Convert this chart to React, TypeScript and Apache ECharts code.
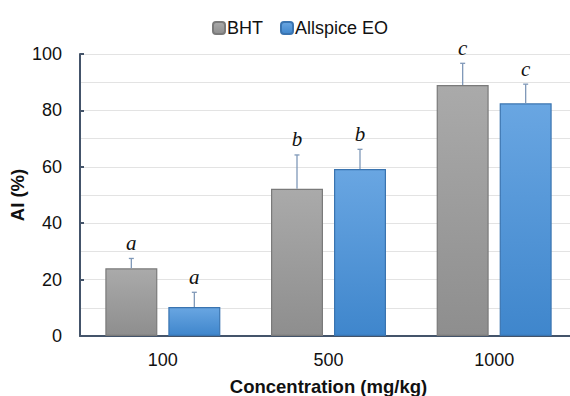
import React, { useEffect, useRef } from "react";
import * as echarts from "echarts";

const categories = ["100", "500", "1000"];
const seriesNames = ["BHT", "Allspice EO"];
const bhtValues = [24.0, 52.2, 89.0];
const bhtErrors = [3.5, 12.0, 7.7];
const allspiceValues = [10.3, 59.2, 82.5];
const allspiceErrors = [5.2, 7.0, 6.8];
const bhtLetters = ["a", "b", "c"];
const allspiceLetters = ["a", "b", "c"];

const BAR_W = 52;
const BAR_GAP = 11;

function errorSeries(values: number[], errors: number[], letters: string[], side: number) {
  const data = values.map((v, i) => [i, v, v + errors[i]]);
  return {
    type: "custom",
    z: 5,
    silent: true,
    data,
    renderItem: (params: any, api: any) => {
      const off = side * (BAR_W / 2 + BAR_GAP / 2);
      const base = api.coord([api.value(0), api.value(1)]);
      const top = api.coord([api.value(0), api.value(2)]);
      const x = base[0] + off;
      const letter = letters[params.dataIndex];
      return {
        type: "group",
        children: [
          {
            type: "line",
            shape: { x1: x, y1: base[1], x2: x, y2: top[1] },
            style: { stroke: "#7f98b8", lineWidth: 1.3 },
          },
          {
            type: "line",
            shape: { x1: x - 2.5, y1: top[1], x2: x + 2.5, y2: top[1] },
            style: { stroke: "#7f98b8", lineWidth: 1.3 },
          },
          {
            type: "text",
            x: x,
            y: top[1] - 5,
            style: {
              text: letter,
              fontFamily: "Liberation Serif",
              fontStyle: "italic",
              fontSize: 21,
              fill: "#111",
              align: "center",
              verticalAlign: "bottom",
            },
          },
        ],
      };
    },
  };
}

export default function App() {
  const ref = useRef<HTMLDivElement>(null);
  useEffect(() => {
    const chart = echarts.init(ref.current!, null, { renderer: "svg" });
    chart.setOption({
      animation: false,
      textStyle: { fontFamily: "Liberation Sans" },
      legend: {
        data: seriesNames,
        left: 207,
        top: 14,
        itemWidth: 12,
        itemHeight: 12,
        itemGap: 17,
        textStyle: { fontSize: 18, color: "#111", padding: [0, 0, 0, -3] },
      },
      grid: { left: 80, top: 54, bottom: 60, width: 497, outerBoundsMode: "none" },
      xAxis: {
        type: "category",
        data: categories,
        axisLine: { lineStyle: { color: "#44546a", width: 2 } },
        axisTick: { inside: true, length: 5, lineStyle: { color: "#44546a", width: 1.5 } },
        axisLabel: { fontSize: 18, color: "#111", margin: 15 },
        name: "Concentration (mg/kg)",
        nameLocation: "middle",
        nameGap: 41,
        nameMoveOverlap: false,
        nameTextStyle: { fontSize: 18.5, fontWeight: "bold", color: "#111", verticalAlign: "top" },
      },
      yAxis: {
        type: "value",
        min: 0,
        max: 100,
        interval: 20,
        axisLine: { show: true, lineStyle: { color: "#44546a", width: 2 } },
        axisTick: { show: true, inside: true, length: 4, lineStyle: { color: "#44546a", width: 2 } },
        axisLabel: { fontSize: 18, color: "#111", margin: 18 },
        splitLine: { lineStyle: { color: "#e3e3e3", width: 1 } },
        minorTick: { show: false, splitNumber: 2 },
        minorSplitLine: { show: true, lineStyle: { color: "#e3e3e3", width: 1 } },
        name: "AI (%)",
        nameLocation: "middle",
        nameGap: 53,
        nameMoveOverlap: false,
        nameTextStyle: { fontSize: 18.5, fontWeight: "bold", color: "#111" },
      },
      series: [
        {
          name: seriesNames[0],
          type: "bar",
          data: bhtValues,
          barWidth: BAR_W,
          barGap: `${(BAR_GAP / BAR_W) * 100}%`,
          itemStyle: {
            color: new echarts.graphic.LinearGradient(0, 0, 0, 1, [
              { offset: 0, color: "#aaaaaa" },
              { offset: 1, color: "#8e8e8e" },
            ]),
            borderColor: "#7a7a7a",
            borderWidth: 1.2,
          },
        },
        {
          name: seriesNames[1],
          type: "bar",
          data: allspiceValues,
          barWidth: BAR_W,
          itemStyle: {
            color: new echarts.graphic.LinearGradient(0, 0, 0, 1, [
              { offset: 0, color: "#69a6e2" },
              { offset: 1, color: "#3f86cc" },
            ]),
            borderColor: "#3a74b0",
            borderWidth: 1.2,
          },
        },
        errorSeries(bhtValues, bhtErrors, bhtLetters, -1),
        errorSeries(allspiceValues, allspiceErrors, allspiceLetters, 1),
      ],
    });
    return () => chart.dispose();
  }, []);
  return <div ref={ref} style={{ width: 570, height: 396, position: "absolute", left: 0, top: 0 }} />;
}
